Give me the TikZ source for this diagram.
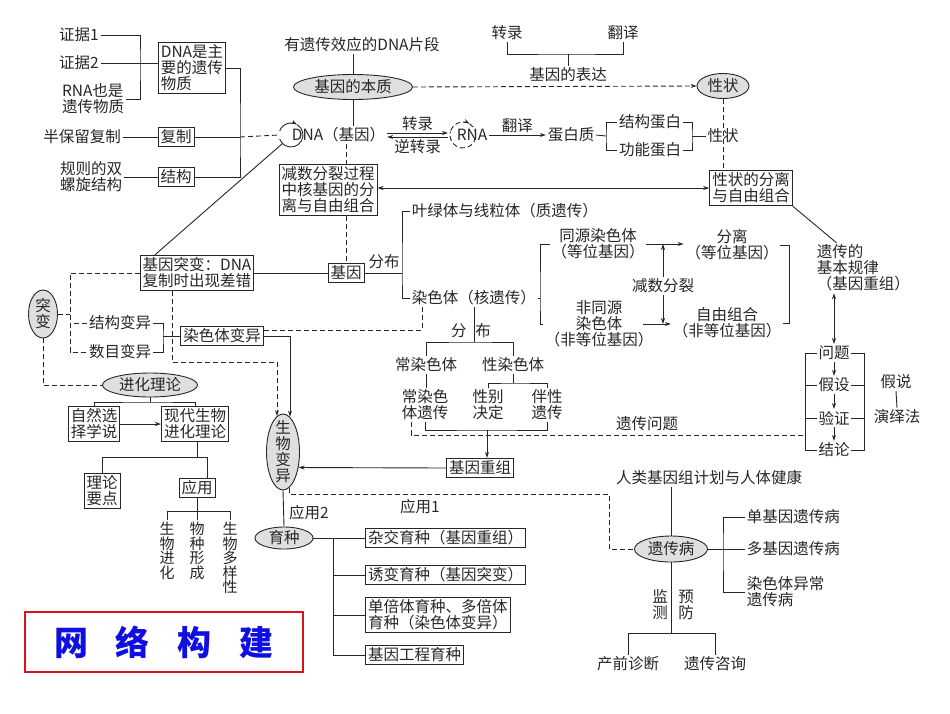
\documentclass[tikz,border=0pt]{standalone}
\usepackage{fontspec}
\setmainfont{Noto Sans CJK SC}
\usepackage{xcolor}
\usepackage{tikz}
\usetikzlibrary{arrows.meta,shapes.geometric,calc}
\definecolor{titleblue}{RGB}{15,15,225}
\definecolor{titlered}{RGB}{215,20,30}

\begin{document}
\begin{tikzpicture}[
    x=1pt, y=-1pt,
    every node/.style={font=\fontsize{15.5}{16}\selectfont, inner sep=1.5pt},
    color=black!85, line width=0.9pt,
    >={Stealth[length=6pt,width=4pt]},
    box/.style  ={rectangle, draw, line width=1pt, inner sep=2.5pt, align=center},
    boxl/.style ={box, align=left},
    oval/.style ={ellipse, draw, fill=gray!25, inner sep=0pt, align=center},
    txt/.style  ={align=center},
    txtl/.style ={align=left},
    vtxt/.style ={align=center, anchor=north, font=\fontsize{15}{14.5}\selectfont},
    titlebox/.style={rectangle, draw=titlered, line width=2pt, text=titleblue,
                  minimum width=278pt, minimum height=60pt,
                  font=\fontsize{34}{36}\selectfont\bfseries},
    dashedge/.style={dash pattern=on 5pt off 3pt},
  ]
  \useasboundingbox (0,0) rectangle (950,713);

  % Top left: genetic material
  \node[txt]  (ev1)     at (79,35)   {证据1};
  \node[txt]  (ev2)     at (79,63)   {证据2};
  \node[txtl] (rnaev)   at (93,99)   {RNA也是\\遗传物质};
  \node[boxl] (dnamain) at (192,68)  {DNA是主\\要的遗传\\物质};
  \node[txt]  (semi)    at (82,137)  {半保留复制};
  \node[box]  (copy)    at (176,137) {复制};
  \node[txtl] (helix)   at (91,177)  {规则的双\\螺旋结构};
  \node[box]  (struct)  at (176,177) {结构};
  \coordinate (ej) at (140,63);
  \coordinate (sj) at (240,137);

  \draw (ev1.east) -| (ej) |- (rnaev.east);
  \draw (ev2.east) -- (ev2.east -| dnamain.west);
  \draw (dnamain.east) -| (sj) |- (struct.east);
  \draw (copy.east) -- (sj);
  \draw (semi.east) -- (copy.west);
  \draw (helix.east) -- (struct.west);

  % Gene essence and expression
  \node[txt] (segment) at (362,45) {有遗传效应的DNA片段};
  \node[oval, minimum width=119pt, minimum height=25pt] (essence) at (353,87) {基因的本质};
  \node[txt, anchor=west] (dna) at (290,135) {DNA（基因）};
  \coordinate (dnac) at (291,135);
  \node[txt] (rna) at (472,135) {RNA};
  \coordinate (rnac) at (463,135);
  \node[txt] (protein) at (571,135) {蛋白质};
  \node[txt] (sp) at (650,122) {结构蛋白};
  \node[txt] (fp) at (650,150) {功能蛋白};
  \node[txt] (trait2) at (723,136) {性状};
  \node[oval, minimum width=52pt, minimum height=25pt] (trait) at (723,86) {性状};
  \node[txt] (tr) at (507,33) {转录};
  \node[txt] (tl) at (623,33) {翻译};
  \node[txt] (expr) at (568,75) {基因的表达};
  \coordinate (exj) at (568,54);
  \coordinate (pj) at (606,136);
  \coordinate (pr) at (692,136);

  \draw[dashedge] (sj) -- ([xshift=-12pt]dnac);
  \draw (segment.south -| essence.north) -- (essence.north);
  \draw (essence.south) -- (essence.south |- dna.north);
  \draw[dashedge,->] (essence.east) -- (trait.west);
  \draw (tr.south) |- (exj) -| (tl.south);
  \draw (exj) -- (expr.north);
  \draw[->] ([shift={(-160:12)}]dnac) arc[start angle=-160, end angle=-60, radius=12];
  \draw ([shift={(-60:12)}]dnac) arc[start angle=-60, end angle=160, radius=12];
  \draw[dashedge,->] ([shift={(-160:13)}]rnac) arc[start angle=-160, end angle=-60, radius=13];
  \draw[dashedge] ([shift={(-60:13)}]rnac) arc[start angle=-60, end angle=195, radius=13];
  \draw[->] ([yshift=2pt]dna.east) -- node[above]{转录} ([xshift=-15pt,yshift=2pt]rnac);
  \draw[<-] ([yshift=-2pt]dna.east) -- node[below]{逆转录} ([xshift=-15pt,yshift=-2pt]rnac);
  \draw[->] (rna.east) -- node[above]{翻译} (protein.west);
  \draw (protein.east) -- (pj);
  \draw (sp.west) -| (pj) |- (fp.west);
  \draw (sp.east) -| (pr) |- (fp.east);
  \draw (pr) -- (trait2.west);

  % Meiosis, segregation and gene distribution
  \node[boxl] (meiosis) at (328,190) {减数分裂过程\\中核基因的分\\离与自由组合};
  \node[box]  (sep) at (751,188) {性状的分离\\与自由组合};
  \node[box]  (gene) at (346,273) {基因};
  \node[boxl] (mut) at (197,273) {基因突变：DNA\\复制时出现差错};
  \node[txt]  (dist) at (384,262) {分布};
  \node[txt, anchor=west] (cp) at (410,211) {叶绿体与线粒体（质遗传）};
  \node[txt, anchor=west] (chrom) at (410,298) {染色体（核遗传）};
  \node[txt] (homo) at (598,244) {同源染色体\\（等位基因）};
  \node[txt] (nonhomo) at (599,324) {非同源\\染色体\\（非等位基因）};
  \node[txt] (segr) at (732,245) {分离\\（等位基因）};
  \node[txt] (indep) at (727,323) {自由组合\\（非等位基因）};
  \node[txt] (meio) at (663,286) {减数分裂};
  \coordinate (gj) at (402,273);
  \coordinate (cj) at (540,298);
  \coordinate (rj) at (789,284);

  \draw[<->] (sep.west) -- (sep.west -| meiosis.east);
  \draw[dashedge] (trait.south) -- (trait.south |- sep.north);
  \draw[dashedge] (dna.south -| gene.north) -- (meiosis.north -| gene.north);
  \draw[dashedge] (meiosis.south -| gene.north) -- (gene.north);
  \draw (mut.east) -- (gene.west);
  \draw ([xshift=-42pt]mut.north) -- ([shift={(135:12)}]dnac);
  \draw (gene.east) -- (gj);
  \draw (cp.west) -| (gj) |- (chrom.west);
  \draw (chrom.east) -- (cj);
  \draw (homo.west) -| (cj) |- (nonhomo.west);
  \draw[->] (homo.east) -- (homo.east -| segr.west);
  \draw[->] ([xshift=-12pt]nonhomo.east) -- (nonhomo.east -| indep.west);
  \draw[->] (meio.north) -- (meio.north |- homo.east);
  \draw[->] (meio.south) -- (meio.south |- nonhomo.east);
  \draw (segr.east) -| (rj) |- (indep.east);

  % Laws of inheritance
  \node[txtl, anchor=west] (law) at (815,268) {遗传的\\基本规律\\（基因重组）};
  \node[txt] (q1) at (834,353) {问题};
  \node[txt] (q2) at (834,385) {假设};
  \node[txt] (q3) at (834,418) {验证};
  \node[txt] (q4) at (834,450) {结论};
  \node[txt] (hyp) at (896,382) {假说};
  \node[txt] (ded) at (897,417) {演绎法};
  \node[txt] (genq) at (647,424) {遗传问题};
  \coordinate (ql) at (805,353);
  \coordinate (qr) at (864,353);
  \coordinate (gq) at (411,435);

  \draw (sep.south east) -- ([xshift=-27pt]law.north);
  \draw[<->] (law.south -| q1.north) -- (q1.north);
  \draw[->] (q1.south) -- (q2.north);
  \draw[->] (q2.south) -- (q3.north);
  \draw[->] (q3.south) -- (q4.north);
  \draw (q1.west) -- (ql) |- (q4.west);
  \draw (q1.east) -- (qr) |- (q4.east);
  \draw (q2.west) -- (q2.west -| ql);
  \draw (q3.west) -- (q3.west -| ql);
  \draw (q2.east) -- (q2.east -| qr);
  \draw (q3.east) -- (q3.east -| qr);
  \draw (hyp.south) -- (ded.north);

  % Mutation and evolution (left)
  \node[oval, minimum width=29pt, minimum height=48pt] (mutv) at (43,314) {突\\变};
  \node[txt] (sv) at (120,323) {结构变异};
  \node[txt] (nv) at (120,352) {数目变异};
  \node[box] (chv) at (222,336) {染色体变异};
  \node[oval, minimum width=95pt, minimum height=24pt] (evo) at (150,385) {进化理论};
  \node[box] (nat) at (94,424) {自然选\\择学说};
  \node[box] (mod) at (195,424) {现代生物\\进化理论};
  \node[box] (pts) at (102,491) {理论\\要点};
  \node[box] (app) at (197,488) {应用};
  \node[vtxt] (v1) at (167,520) {生\\物\\进\\化};
  \node[vtxt] (v2) at (197,520) {物\\种\\形\\成};
  \node[vtxt] (v3) at (230,520) {生\\物\\多\\样\\性};
  \node[titlebox] (title) at (164,642) {网\hspace{28pt}络\hspace{28pt}构\hspace{28pt}建\hspace{16pt}};
  \coordinate (mj) at (70,314);
  \coordinate (vj) at (163,336);
  \coordinate (evj) at (150,402);
  \coordinate (mdj) at (197,457);
  \coordinate (apj) at (197,511);

  \draw[dashedge] (mutv.east) -- (mj);
  \draw[dashedge] (mut.west) -| (mj) |- (nv.west);
  \draw[dashedge] (sv.west) -- (sv.west -| mj);
  \draw[dashedge] (mutv.south) |- (evo.west);
  \draw (sv.east) -| (vj) |- (nv.east);
  \draw (vj) -- (chv.west);
  \draw (evo.south) -- (evj);
  \draw (nat.north) |- (evj) -| (mod.north);
  \draw[->] (nat.east) -- (mod.west);
  \draw (mod.south -| mdj) -- (mdj);
  \draw (pts.north) |- (mdj) -| ([xshift=10pt]app.north);
  \draw (app.south) -- (apj);
  \draw (v1.north) |- (apj) -| (v3.north);
  \draw (apj) -- (v2.north);

  % Variation, chromosomes and breeding (middle)
  \node[oval, minimum width=33pt, minimum height=76pt] (bio) at (283,452) {};
  \node[txt] (biotx) at (bio) {生\\物\\变\\异};
  \node[txt] (dist2) at (471,331) {分\hspace{9pt}布};
  \node[txt] (auto) at (426,365) {常染色体};
  \node[txt] (sexc) at (513,365) {性染色体};
  \node[txt] (autoh) at (425,405) {常染色\\体遗传};
  \node[txt] (sexd) at (488,405) {性别\\决定};
  \node[txt] (sexl) at (547,405) {伴性\\遗传};
  \node[box] (recomb) at (480,468) {基因重组};
  \node[txt] (app1) at (420,507) {应用1};
  \node[txt] (app2) at (309,513) {应用2};
  \node[oval, minimum width=58pt, minimum height=22pt] (breed) at (284,538) {育种};
  \node[box, anchor=west]  (b1) at (365,538) {杂交育种（基因重组）};
  \node[box, anchor=west]  (b2) at (365,575) {诱变育种（基因突变）};
  \node[boxl, anchor=west] (b3) at (365,615) {单倍体育种、多倍体\\育种（染色体变异）};
  \node[box, anchor=west]  (b4) at (365,655) {基因工程育种};
  \coordinate (mb) at (277,362);
  \coordinate (dj) at (471,342);
  \coordinate (xj) at (513,383);
  \coordinate (rj2) at (487,430);
  \coordinate (bj) at (333,538);

  \draw[dashedge,->] ([xshift=-25pt]mut.south) |- (mb) -- ([xshift=-6pt,yshift=-2.5pt]bio.north);
  \draw[->] (chv.east) -| ([xshift=7pt,yshift=-3pt]bio.north);
  \draw[dashedge] ([xshift=12pt]chrom.south west) |- ([yshift=6pt]chv.east);
  \draw (chrom.south) -- (chrom.south |- dj);
  \draw (auto.north) |- (dj) -| (sexc.north);
  \draw (auto.south) -- (auto.south |- autoh.north);
  \draw (sexc.south) -- (xj);
  \draw (sexd.north) |- (xj) -| (sexl.north);
  \draw (autoh.south) |- (rj2) -| (sexl.south);
  \draw[->] (rj2) -- (rj2 |- recomb.north);
  \draw[->] (recomb.west) -- (bio.-45);
  \draw[dashedge] (autoh.south -| gq) -- (gq) -- (gq -| ql);
  \draw (bio.south) -- (breed.north);
  \draw (breed.east) -- (b1.west);
  \draw (bj) |- (b4.west);
  \draw (b2.west -| bj) -- (b2.west);
  \draw (b3.west -| bj) -- (b3.west);

  % Human genetic disease (bottom right)
  \node[txt] (hgp) at (709,478) {人类基因组计划与人体健康};
  \node[oval, minimum width=73pt, minimum height=26pt] (dis) at (671,549) {遗传病};
  \node[txt, anchor=west]  (d1) at (745,517) {单基因遗传病};
  \node[txt, anchor=west]  (d2) at (745,549) {多基因遗传病};
  \node[txtl, anchor=west] (d3) at (745,592) {染色体异常\\遗传病};
  \node[txt] (mon) at (660,605) {监\\测};
  \node[txt] (prev) at (686,605) {预\\防};
  \node[txt] (pre) at (628,664) {产前诊断};
  \node[txt] (gc) at (715,664) {遗传咨询};
  \coordinate (a1) at (609,494);
  \coordinate (dj2) at (723,549);
  \coordinate (pj2) at (671,633);

  \draw[dashedge] (bio.-80) |- (a1) |- (dis.west);
  \draw (hgp.south -| dis.north) -- (dis.north);
  \draw (dis.east) -- (d2.west);
  \draw (d1.west) -| (dj2) |- (d3.west);
  \draw (dis.south) -- (pj2);
  \draw (pre.north) |- (pj2) -| (gc.north);
\end{tikzpicture}
\end{document}
